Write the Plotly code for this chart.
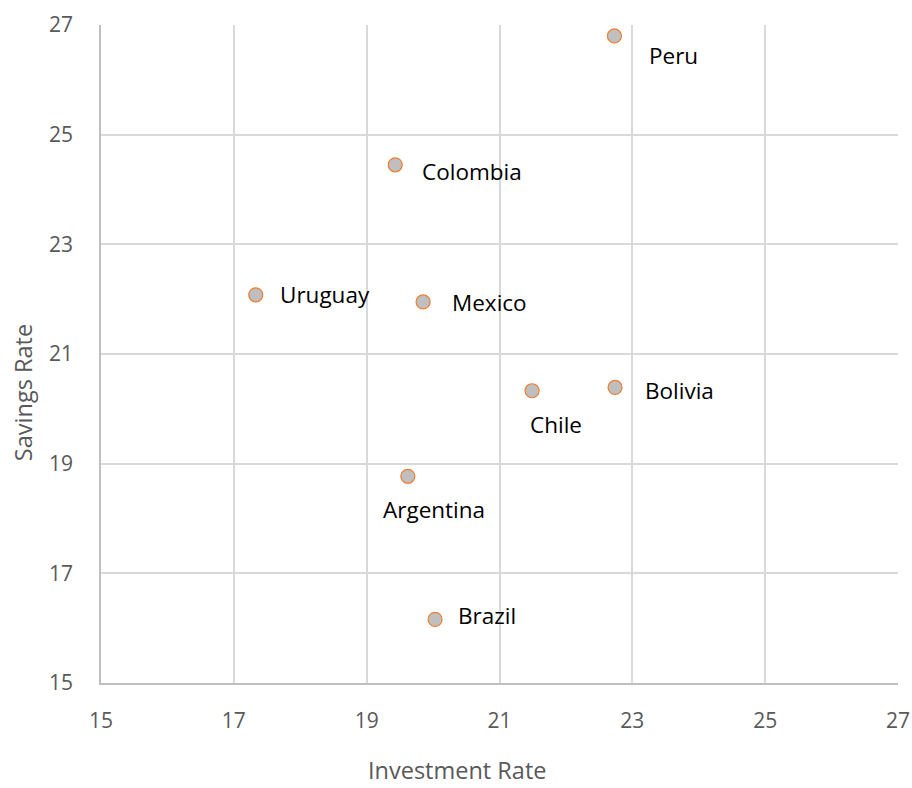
import plotly.graph_objects as go

countries = ["Peru", "Colombia", "Uruguay", "Mexico", "Chile", "Bolivia", "Argentina", "Brazil"]
investment = [22.73, 19.43, 17.33, 19.85, 21.49, 22.74, 19.62, 20.03]
savings = [26.80, 24.45, 22.08, 21.95, 20.33, 20.39, 18.77, 16.16]
# label offsets (pixels) relative to each point
label_dx = [59, 77, 69, 66, 24, 64, 26, 52]
label_dy = [-20, -7, 0, -1, -34, -3, -33, 4]

tick_vals = [15, 17, 19, 21, 23, 25, 27]
FONT = "Open Sans, Liberation Sans, sans-serif"

fig = go.Figure()
fig.add_trace(go.Scatter(
    x=investment, y=savings, mode="markers",
    marker=dict(size=14, color="#BFBFBF", line=dict(color="#ED7D31", width=1.2)),
    hoverinfo="text", text=countries,
))

for c, xv, yv, dx, dy in zip(countries, investment, savings, label_dx, label_dy):
    fig.add_annotation(x=xv, y=yv, text=c, showarrow=False, xshift=dx, yshift=dy,
                       font=dict(family=FONT, size=22.5, color="#000000"))

axis_common = dict(
    range=[15, 27], tickvals=tick_vals, showgrid=True, gridcolor="#D9D9D9", gridwidth=1.5,
    showline=True, linecolor="#BFBFBF", linewidth=1.5, zeroline=False,
    tickfont=dict(family=FONT, size=21, color="#595959"),
    ticks="", fixedrange=True, automargin=False,
)
fig.update_xaxes(**axis_common, ticklabelstandoff=18)
fig.update_yaxes(**axis_common, ticklabelstandoff=22)

# axis titles placed as paper annotations (Excel-style positions)
fig.add_annotation(xref="paper", yref="paper", x=0.4467, y=-0.1322, text="Investment Rate",
                   showarrow=False, xanchor="center", yanchor="middle",
                   font=dict(family=FONT, size=23.5, color="#595959"))
fig.add_annotation(xref="paper", yref="paper", x=-0.0979, y=0.442, text="Savings Rate",
                   showarrow=False, xanchor="center", yanchor="middle", textangle=-90,
                   font=dict(family=FONT, size=23.5, color="#595959"))

fig.update_layout(
    width=912, height=788, margin=dict(l=101, r=14, t=25, b=105),
    plot_bgcolor="white", paper_bgcolor="white", showlegend=False,
)
fig.write_html("out.html")
